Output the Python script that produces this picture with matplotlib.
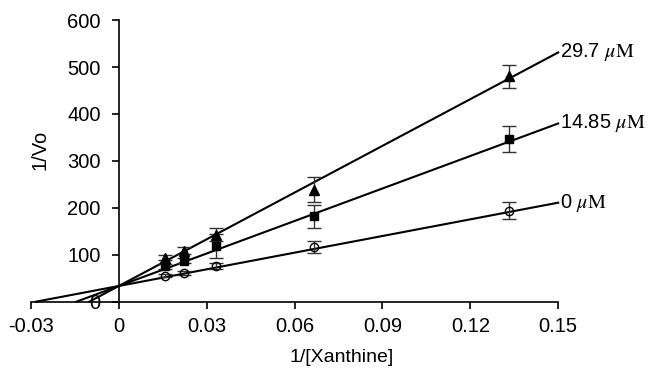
import numpy as np
import matplotlib
matplotlib.use('Agg')
import matplotlib.pyplot as plt

plt.rcParams['font.family'] = ['Liberation Sans', 'DejaVu Sans']
plt.rcParams['mathtext.fontset'] = 'stix'

# 1/[Xanthine]
x = [1/64, 1/45, 1/30, 1/15, 1/7.5]

# 1/Vo for each inhibitor concentration
y_0 = [55.6, 60.7, 76, 117, 194]
err_0 = [4, 4, 7, 13, 18]
y_1485 = [75, 87.6, 119, 182, 347]
err_1485 = [5, 6, 25, 25, 27]
y_297 = [94, 109, 142.5, 239, 480]
err_297 = [6, 8, 14, 27, 25]

# fitted lines
intercept = 33.5
slopes = [1183, 2308, 3317]
labels = ['0 $\\mu\\mathrm{M}$', '14.85 $\\mu\\mathrm{M}$', '29.7 $\\mu\\mathrm{M}$']

xticks = [-0.03, 0, 0.03, 0.06, 0.09, 0.12, 0.15]
xticklabels = ['-0.03', '0', '0.03', '0.06', '0.09', '0.12', '0.15']
yticks = [0, 100, 200, 300, 400, 500, 600]

fig = plt.figure(figsize=(6.5, 3.71), dpi=100)
ax = fig.add_axes([0.0477, 0.1868, 0.811, 0.759])

# fit lines from x-intercept to 0.15, with labels at the end
for m, lab in zip(slopes, labels):
    x0 = -intercept / m
    xs = np.array([x0, 0.15])
    ax.plot(xs, intercept + m * xs, color='black', lw=1.5, clip_on=False, zorder=2)
    ax.text(0.1505, intercept + m * 0.15, lab, fontsize=14.5, ha='left', va='center')

# data points with error bars
ax.errorbar(x, y_0, yerr=err_0, fmt='o', ms=6, mfc='none', mec='black', mew=1,
            ecolor='#333333', elinewidth=1, capsize=5, capthick=1, zorder=3)
ax.errorbar(x, y_1485, yerr=err_1485, fmt='s', ms=6, color='black',
            ecolor='#333333', elinewidth=1, capsize=5, capthick=1, zorder=3)
ax.errorbar(x, y_297, yerr=err_297, fmt='^', ms=7, color='black',
            ecolor='#333333', elinewidth=1, capsize=5, capthick=1, zorder=3)

ax.set_xlim(-0.03, 0.15)
ax.set_ylim(0, 600)

ax.spines['top'].set_visible(False)
ax.spines['right'].set_visible(False)
ax.spines['left'].set_position(('data', 0))
ax.spines['bottom'].set_position(('data', 0))
ax.spines['left'].set_linewidth(1.2)
ax.spines['bottom'].set_linewidth(1.2)

ax.set_xticks(xticks)
ax.set_xticklabels(xticklabels)
ax.set_yticks(yticks)
ax.tick_params(axis='both', direction='out', length=5, width=1.2, labelsize=14.5)
ax.tick_params(axis='y', pad=8)
ax.tick_params(axis='x', pad=6)

ax.set_xlabel('1/[Xanthine]', fontsize=14)
ax.xaxis.set_label_coords(0.59, -0.168)
ax.set_ylabel('1/Vo', fontsize=14.5)
ax.yaxis.set_label_coords(0.036, 0.54)

fig.savefig('out.png', dpi=100)
